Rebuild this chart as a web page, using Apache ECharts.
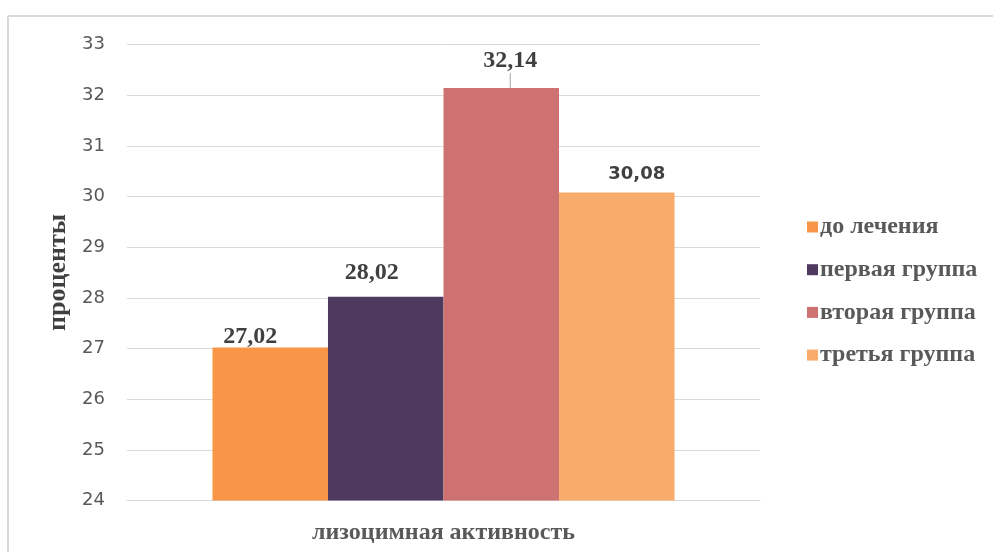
<!DOCTYPE html>
<html>
<head>
<meta charset="utf-8">
<script src="https://cdn.jsdelivr.net/npm/echarts@6/dist/echarts.min.js"></script>
<style>
html, body { margin: 0; padding: 0; background: #ffffff; }
#chart { width: 993px; height: 552px; }
</style>
</head>
<body>
<div id="chart"></div>
<script>
// Lysozyme activity by group, percent
const categories = ['лизоцимная активность'];
const seriesNames = ['до лечения', 'первая группа', 'вторая группа', 'третья группа'];
const seriesValues = [[27.02], [28.02], [32.14], [30.08]];
const seriesColors = ['#F79646', '#4E3A5F', '#CD7270', '#F9AB6B'];
const yTicks = { min: 24, max: 33, step: 1 };
const yTitle = 'проценты';

const serif = '"Liberation Serif", "Times New Roman", serif';
const sans = '"DejaVu Sans", "Noto Sans", sans-serif';

// per-series nudges of the value labels
const labelShift = [
  { dx: -20, dy: 6, font: serif, size: 24, line: false },
  { dx: -14, dy: -7, font: serif, size: 24, line: false },
  { dx: 9, dy: -10, font: serif, size: 24, line: true },
  { dx: 20, dy: -4, font: sans, size: 18, line: false }
];

const fmt = v => v.toFixed(2).replace('.', ',');

const chart = echarts.init(document.getElementById('chart'), null, { renderer: 'canvas' });

const series = seriesNames.map((name, i) => ({
  name: name,
  type: 'bar',
  data: seriesValues[i],
  barGap: '0%',
  barCategoryGap: '27%',
  itemStyle: { color: seriesColors[i] },
  label: {
    show: true,
    position: 'top',
    distance: 5,
    formatter: p => fmt(p.value),
    fontFamily: labelShift[i].font,
    fontWeight: 'bold',
    fontSize: labelShift[i].size,
    color: '#404040'
  },
  labelLayout: { dx: labelShift[i].dx, dy: labelShift[i].dy },
  labelLine: {
    show: labelShift[i].line,
    lineStyle: { color: '#a6a6a6', width: 1 }
  }
}));

// chart-area frame: only its top and left edges fall inside the page
const frameStyle = { stroke: '#d9d9d9', lineWidth: 2 };

chart.setOption({
  animation: false,
  backgroundColor: '#ffffff',
  graphic: [
    { type: 'line', shape: { x1: 8, y1: 16, x2: 993, y2: 16 }, style: frameStyle, silent: true },
    { type: 'line', shape: { x1: 8, y1: 16, x2: 8, y2: 552 }, style: frameStyle, silent: true }
  ],
  grid: { left: 127, right: 233, top: 44.5, bottom: 51.5, containLabel: false },
  legend: {
    orient: 'vertical',
    left: 802,
    top: 210,
    icon: 'rect',
    itemWidth: 11,
    itemHeight: 11,
    itemGap: 18.7,
    textStyle: {
      fontFamily: serif,
      fontWeight: 'bold',
      fontSize: 24,
      color: '#595959',
      padding: [0, 0, 0, -3]
    },
    data: seriesNames
  },
  xAxis: {
    type: 'category',
    data: categories,
    axisLine: { show: true, lineStyle: { color: '#d9d9d9', width: 1 } },
    axisTick: { show: false },
    axisLabel: {
      margin: 20,
      fontFamily: serif,
      fontWeight: 'bold',
      fontSize: 24,
      color: '#595959'
    }
  },
  yAxis: {
    type: 'value',
    min: yTicks.min,
    max: yTicks.max,
    interval: yTicks.step,
    name: yTitle,
    nameLocation: 'middle',
    nameRotate: 90,
    nameGap: 56,
    nameTextStyle: {
      fontFamily: serif,
      fontWeight: 'bold',
      fontSize: 26,
      color: '#404040'
    },
    axisLine: { show: false },
    axisTick: { show: false },
    splitLine: { lineStyle: { color: '#d9d9d9', width: 1 } },
    axisLabel: {
      margin: 22,
      fontFamily: sans,
      fontSize: 18,
      color: '#595959'
    }
  },
  series: series
});
</script>
</body>
</html>
